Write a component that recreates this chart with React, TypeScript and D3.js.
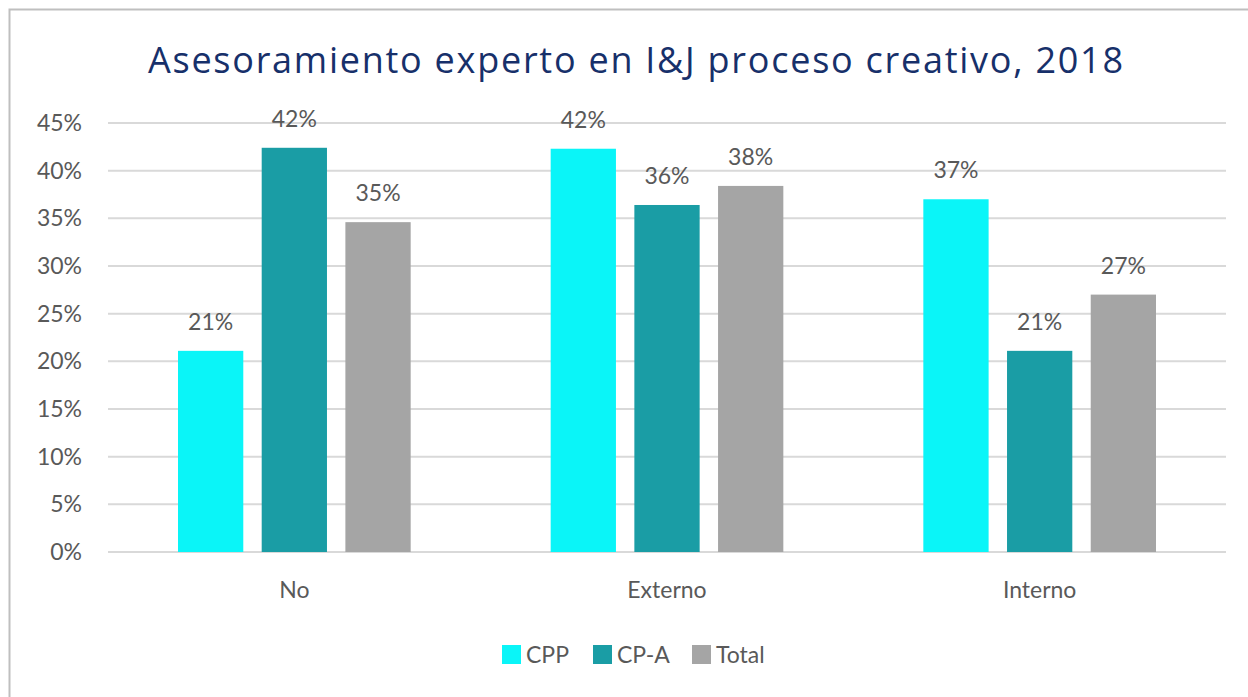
import React from "react";
import * as d3 from "d3";

const categories = ["No", "Externo", "Interno"];
const seriesNames = ["CPP", "CP-A", "Total"];
const cppValues = [21.1, 42.3, 37.0];
const cpaValues = [42.4, 36.4, 21.1];
const totalValues = [34.6, 38.4, 27.0];
const yTicks = [0, 5, 10, 15, 20, 25, 30, 35, 40, 45];

const colors: Record<string, string> = {
  CPP: "#0AF5F8",
  "CP-A": "#1A9DA5",
  Total: "#A5A5A5",
};

const W = 1248;
const H = 697;
const font = "Lato, 'Open Sans', sans-serif";
const labelSize = 23;

export default function App() {
  const seriesValues: Record<string, number[]> = {
    CPP: cppValues,
    "CP-A": cpaValues,
    Total: totalValues,
  };

  const left = 108;
  const right = 1226;
  const y = d3.scaleLinear().domain([0, 45]).range([552, 123]);
  const x0 = d3.scaleBand<string>().domain(categories).range([left, right]).padding(0);
  const groupW = x0.bandwidth();
  const x1 = d3
    .scaleBand<string>()
    .domain(seriesNames)
    .range([70, groupW - 70])
    .paddingInner(0.22)
    .paddingOuter(0);

  const legendItems = [
    { name: "CPP", x: 502 },
    { name: "CP-A", x: 593 },
    { name: "Total", x: 692 },
  ];

  return (
    <svg
      width={W}
      height={H}
      style={{ position: "absolute", left: 0, top: 0, background: "#fff" }}
    >
      <rect x={0} y={0} width={W} height={H} fill="#fff" />
      <rect x={9.5} y={9.5} width={W + 20} height={H + 20} fill="none" stroke="#BFBFBF" strokeWidth={2} />

      <text
        x={148}
        y={73}
        textLength={975}
        lengthAdjust="spacing"
        fontFamily="'Open Sans', Lato, sans-serif"
        fontSize={36}
        fill="#17306A"
      >
        Asesoramiento experto en I&amp;J proceso creativo, 2018
      </text>

      {yTicks.map((t) => (
        <g key={t}>
          <line x1={left} x2={right} y1={y(t)} y2={y(t)} stroke="#D9D9D9" strokeWidth={2} />
          <text
            x={82}
            y={y(t)}
            dy="0.35em"
            textAnchor="end"
            fontFamily={font}
            fontSize={labelSize}
            fill="#595959"
          >
            {t}%
          </text>
        </g>
      ))}

      {categories.map((c, i) => (
        <g key={c} transform={`translate(${x0(c)},0)`}>
          {seriesNames.map((s) => {
            const v = seriesValues[s][i];
            const bx = x1(s) as number;
            return (
              <g key={s}>
                <rect
                  x={bx}
                  y={y(v)}
                  width={x1.bandwidth()}
                  height={y(0) - y(v)}
                  fill={colors[s]}
                />
                <text
                  x={bx + x1.bandwidth() / 2}
                  y={y(v) - 21}
                  textAnchor="middle"
                  fontFamily={font}
                  fontSize={labelSize}
                  fill="#595959"
                >
                  {d3.format(".0f")(v)}%
                </text>
              </g>
            );
          })}
          <text
            x={groupW / 2}
            y={590}
            dy="0.35em"
            textAnchor="middle"
            fontFamily={font}
            fontSize={labelSize}
            fill="#595959"
          >
            {c}
          </text>
        </g>
      ))}

      {legendItems.map((l) => (
        <g key={l.name}>
          <rect x={l.x} y={645} width={19} height={19} fill={colors[l.name]} />
          <text
            x={l.x + 24}
            y={655}
            dy="0.35em"
            fontFamily={font}
            fontSize={labelSize}
            fill="#595959"
          >
            {l.name}
          </text>
        </g>
      ))}
    </svg>
  );
}
